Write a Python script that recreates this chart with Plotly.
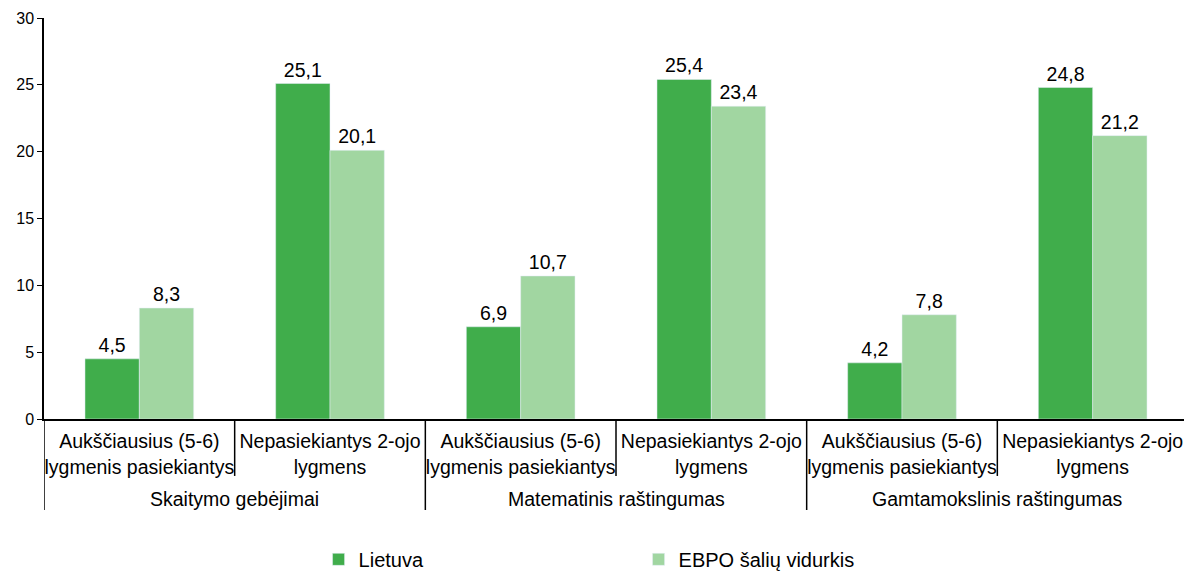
import plotly.graph_objects as go

# data
groups = ["Skaitymo gebėjimai", "Matematinis raštingumas", "Gamtamokslinis raštingumas"]
levels = ["Aukščiausius (5-6)<br>lygmenis pasiekiantys", "Nepasiekiantys 2-ojo<br>lygmens"]
lietuva = [4.5, 25.1, 6.9, 25.4, 4.2, 24.8]
ebpo = [8.3, 20.1, 10.7, 23.4, 7.8, 21.2]

cats = [f"{g} | {lv}" for g in groups for lv in levels]
sub_text = [lv for g in groups for lv in levels]

FONT = "Liberation Sans, Arial, sans-serif"
DARK = "#40ad4b"
LIGHT = "#a1d6a1"

fig = go.Figure()
fig.add_trace(go.Bar(x=cats, y=lietuva, name="Lietuva", marker_color=DARK,
                     texttemplate="%{y:.1f}", textposition="outside",
                     textfont=dict(size=19.5, color="black"), cliponaxis=False))
fig.add_trace(go.Bar(x=cats, y=ebpo, name="EBPO šalių vidurkis", marker_color=LIGHT,
                     texttemplate="%{y:.1f}", textposition="outside",
                     textfont=dict(size=19.5, color="black"), cliponaxis=False))

# dividers under the axis
n = len(cats)
for i in range(n + 1):
    is_group = i % len(levels) == 0
    fig.add_shape(type="line", xref="x", yref="paper",
                  x0=i - 0.5, x1=i - 0.5, y0=0, y1=-0.227 if is_group else -0.142,
                  line=dict(color="black", width=1.5))

# group labels
for gi, g in enumerate(groups):
    fig.add_annotation(x=gi * len(levels) + (len(levels) - 1) / 2, xref="x",
                       y=-0.2, yref="paper", text=g, showarrow=False,
                       yanchor="middle", font=dict(size=19.5, color="black"))

# page body has an 8px margin, so the figure is offset by 8px;
# figure is a bit taller than the window so the legend does not push the margins
fig.update_layout(
    width=1192, height=600,
    margin=dict(l=36, r=12, t=10, b=189),
    paper_bgcolor="white", plot_bgcolor="white",
    barmode="group", bargap=0.43, bargroupgap=0,
    separators=", ",
    font=dict(family=FONT, size=16, color="black"),
    showlegend=True,
    legend=dict(orientation="h", x=0.24, xanchor="left", y=-0.35, yanchor="middle",
                entrywidth=275, entrywidthmode="pixels",
                font=dict(size=20, color="black")),
)
fig.update_xaxes(tickvals=cats, ticktext=sub_text, ticks="", showline=True,
                 linecolor="black", linewidth=1.5, tickfont=dict(size=19.5),
                 ticklabelstandoff=4, automargin=False,
                 range=[-0.5, n - 0.5])
fig.update_yaxes(range=[0, 30], dtick=5, showgrid=False, zeroline=False,
                 showline=True, linecolor="black", linewidth=1.5,
                 ticks="outside", ticklen=5, tickcolor="black",
                 tickfont=dict(size=16), automargin=False)

fig.write_html("out.html")
